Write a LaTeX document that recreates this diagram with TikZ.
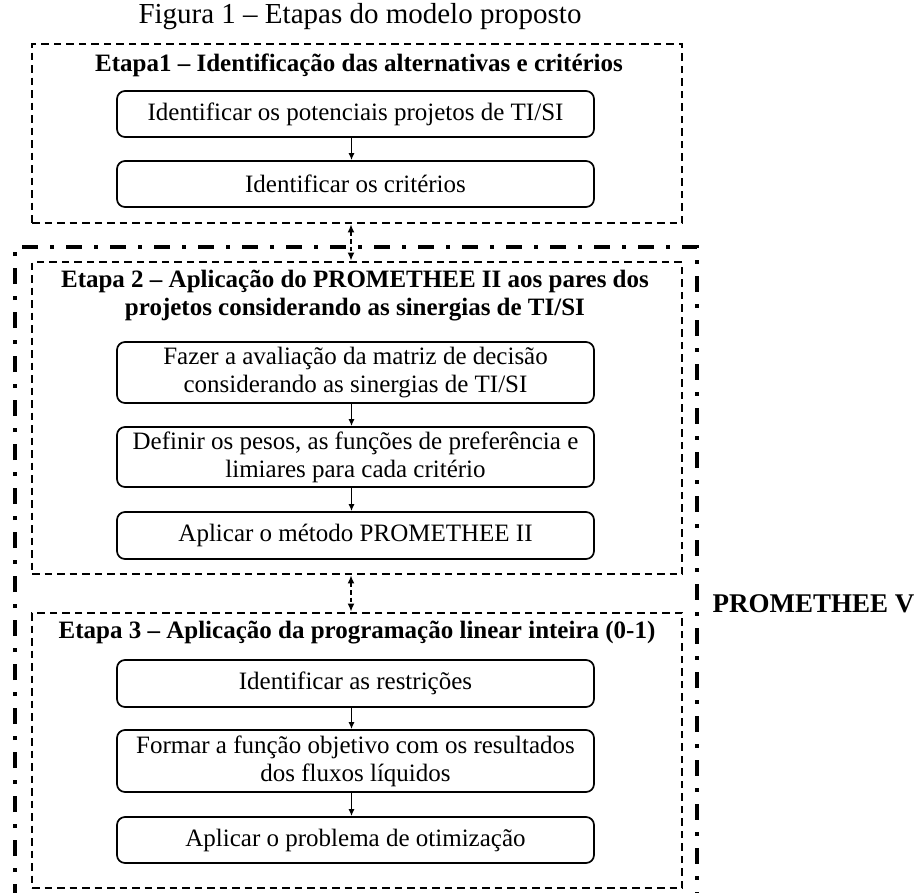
\documentclass[tikz,border=0pt]{standalone}
\usepackage{fontspec}
\setmainfont{Liberation Serif}
\usetikzlibrary{arrows.meta}
\tikzset{
  stepbox/.style={draw=black, line width=1.7pt, rounded corners=8pt, minimum width=477pt,
    align=center, inner sep=0pt, font=\fontsize{25}{28}\selectfont},
  etapa/.style={draw=black, line width=2.8pt, dash pattern=on 7.5pt off 5pt, inner sep=0pt},
  head/.style={font=\fontsize{25}{28}\selectfont\bfseries, align=center, inner sep=0pt},
  flow/.style={line width=1.3pt, -{Latex[length=7pt,width=6pt]}},
  link/.style={line width=1.6pt, dash pattern=on 4.5pt off 3pt, {Latex[length=8pt,width=7pt]}-{Latex[length=8pt,width=7pt]}},
  outer/.style={line width=4pt, dash pattern=on 16pt off 12pt on 4pt off 12pt}
}
\begin{document}
\begin{tikzpicture}[x=1pt,y=-1pt]
\useasboundingbox (0,0) rectangle (921,892);
\clip (0,0) rectangle (921,892);

\node[font=\fontsize{29}{32}\selectfont, inner sep=0pt] (title) at (360,17) {Figura 1 -- Etapas do modelo proposto};

% Outer dash-dot frame (bottom runs off the picture)
\coordinate (oL) at (15,900);
\coordinate (oTL) at (15,247);
\coordinate (oTR) at (697,247);
\coordinate (oR) at (697,900);
\draw[outer] (oL) -- (oTL) -- (oTR) -- (oR);

% Stage boxes
\node[etapa, minimum width=650pt, minimum height=179pt] (e1) at (357,133.5) {};
\node[etapa, minimum width=650pt, minimum height=312pt] (e2) at (357,418) {};
\node[etapa, minimum width=650pt, minimum height=275pt] (e3) at (357,750.5) {};

% Headings
\node[head] (h1) at (359,65) {Etapa1 -- Identificação das alternativas e critérios};
\node[head] (h2) at (355,296) {Etapa 2 -- Aplicação do PROMETHEE II aos pares dos\\projetos considerando as sinergias de TI/SI};
\node[head] (h3) at (357,633) {Etapa 3 -- Aplicação da programação linear inteira (0-1)};

% Steps
\node[stepbox, minimum height=46pt] (b1) at (355.5,114) {Identificar os potenciais projetos de TI/SI};
\node[stepbox, minimum height=46pt] (b2) at (355.5,184) {Identificar os critérios};
\node[stepbox, minimum height=61pt] (b3) at (355.5,372.5) {Fazer a avaliação da matriz de decisão\\considerando as sinergias de TI/SI};
\node[stepbox, minimum height=60pt] (b4) at (355.5,457) {Definir os pesos, as funções de preferência e\\limiares para cada critério};
\node[stepbox, minimum height=47pt] (b5) at (355.5,535.5) {Aplicar o método PROMETHEE II};
\node[stepbox, minimum height=47pt] (b6) at (355.5,683.5) {Identificar as restrições};
\node[stepbox, minimum height=62pt] (b7) at (355.5,761) {Formar a função objetivo com os resultados\\dos fluxos líquidos};
\node[stepbox, minimum height=46pt] (b8) at (355.5,840) {Aplicar o problema de otimização};

\node[font=\fontsize{27}{30}\selectfont\bfseries, inner sep=0pt] (pv) at (813.5,604) {PROMETHEE V};

% Flow arrows
\foreach \a/\b in {b1/b2, b3/b4, b4/b5, b6/b7, b7/b8}
  \draw[flow] ([xshift=-4pt]\a.south) -- ([xshift=-4pt]\b.north);

% Links between stages
\draw[link] ([xshift=-6pt]e1.south) -- ([xshift=-6pt]e2.north);
\draw[link] ([xshift=-6pt]e2.south) -- ([xshift=-6pt]e3.north);
\end{tikzpicture}
\end{document}
